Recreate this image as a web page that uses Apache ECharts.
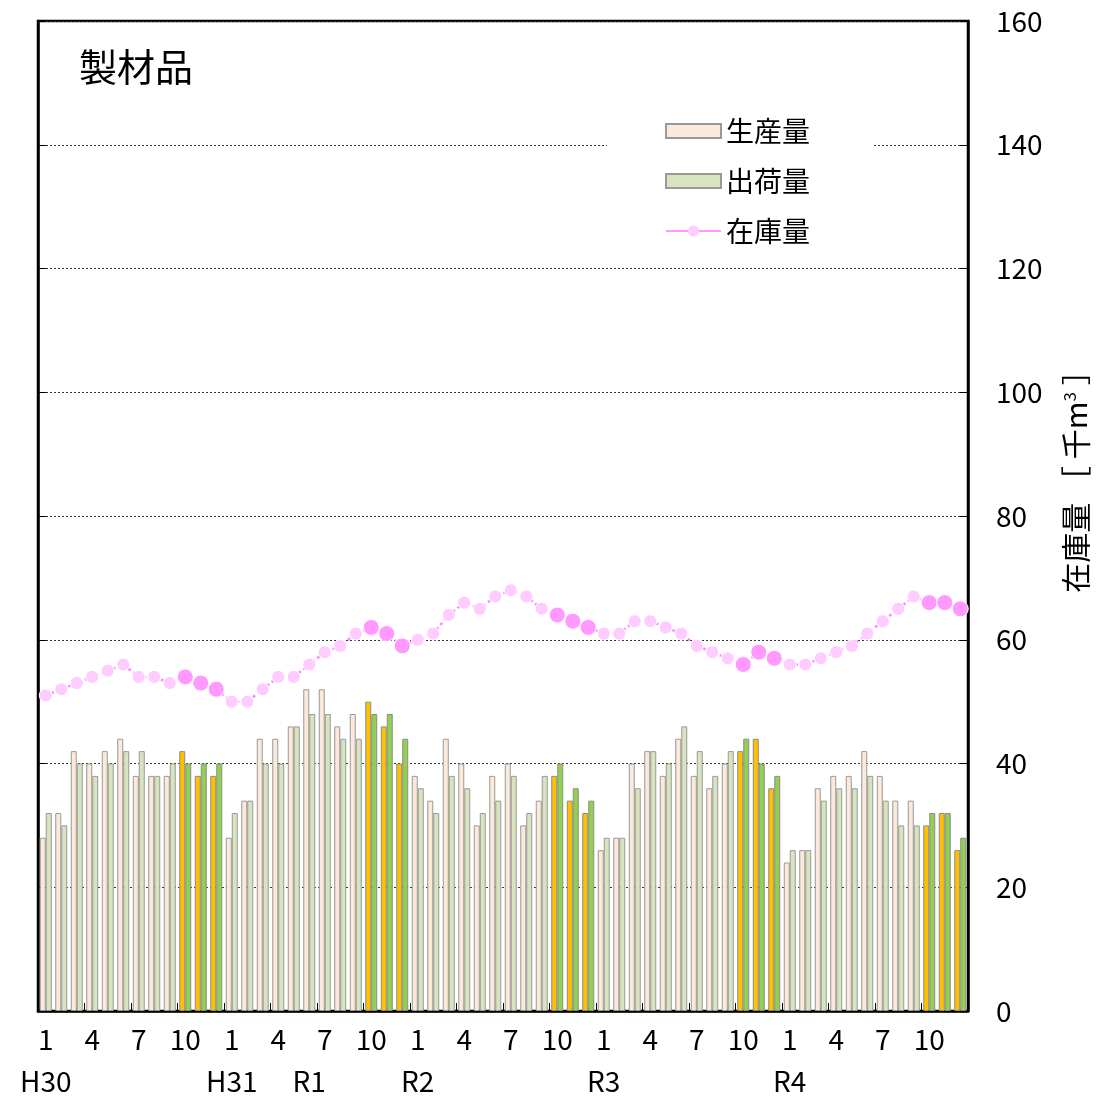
<!DOCTYPE html>
<html><head><meta charset="utf-8">
<script src="https://cdn.jsdelivr.net/npm/echarts@6/dist/echarts.min.js"></script>
<style>html,body{margin:0;padding:0;background:#fff}#c{width:1100px;height:1112px}</style>
</head><body><div id="c"></div>
<script>
// ---- data ----
const years = [2018, 2019, 2020, 2021, 2022];
const monthNums = [1,2,3,4,5,6,7,8,9,10,11,12];
const categories = [];
years.forEach(y => monthNums.forEach(m => categories.push(y + '-' + m)));
const eraLabels = {0: 'H30', 12: 'H31', 17: 'R1', 24: 'R2', 36: 'R3', 48: 'R4'};
const production = [
  28,32,42,40,42,44,38,38,38,42,38,38,
  28,34,44,44,46,52,52,46,48,50,46,40,
  38,34,44,40,30,38,40,30,34,38,34,32,
  26,28,40,42,38,44,38,36,40,42,44,36,
  24,26,36,38,38,42,38,34,34,30,32,26];
const shipment = [
  32,30,40,38,40,42,42,38,40,40,40,40,
  32,34,40,40,46,48,48,44,44,48,48,44,
  36,32,38,36,32,34,38,32,38,40,36,34,
  28,28,36,42,40,46,42,38,42,44,40,38,
  26,26,34,36,36,38,34,30,30,32,32,28];
const inventory = [
  51,52,53,54,55,56,54,54,53,54,53,52,
  50,50,52,54,54,56,58,59,61,62,61,59,
  60,61,64,66,65,67,68,67,65,64,63,62,
  61,61,63,63,62,61,59,58,57,56,58,57,
  56,56,57,58,59,61,63,65,67,66,66,65];
const yTicks = [0,20,40,60,80,100,120,140,160];

// ---- styles ----
const FONT = '"Noto Sans CJK JP", "Noto Sans", sans-serif';
const isHi = i => (i % 12) >= 9;
const prodData = production.map((v, i) => isHi(i) ? {value: v, itemStyle: {color: '#FFC000', borderColor: '#8c8c8c'}} : v);
const shipData = shipment.map((v, i) => isHi(i) ? {value: v, itemStyle: {color: '#92D050', borderColor: '#8c8c8c'}} : v);
const invData = inventory.map((v, i) => isHi(i) ? {value: v, symbolSize: 16, itemStyle: {color: '#FF99FF'}} : v);

const chart = echarts.init(document.getElementById('c'), null, {renderer: 'canvas'});
chart.setOption({
  animation: false,
  backgroundColor: '#fff',
  title: {text: '製材品', left: 74, top: 43, textStyle: {fontSize: 38, fontWeight: 'normal', color: '#000', fontFamily: FONT}},
  grid: {left: 38, right: 132, top: 21, bottom: 101, show: true, borderColor: '#000', borderWidth: 2.5, backgroundColor: 'transparent'},
  legend: {
    orient: 'vertical', left: 607, top: 107,
    padding: [10, 64, 10, 58], itemGap: 22,
    itemWidth: 55, itemHeight: 14,
    backgroundColor: '#fff',
    textStyle: {fontSize: 28, color: '#000', fontFamily: FONT, padding: [0, 0, 0, 0]},
    data: [
      {name: '生産量', icon: 'rect'},
      {name: '出荷量', icon: 'rect'},
      {name: '在庫量', lineStyle: {type: 'solid', width: 2, color: '#FF99FF'}, itemStyle: {color: '#FFCCFF', borderWidth: 0}}
    ]
  },
  xAxis: [{
    type: 'category', data: categories, position: 'bottom',
    axisLine: {show: true, lineStyle: {color: '#000', width: 2.5}},
    axisTick: {show: true, inside: true, length: 8, lineStyle: {color: '#000', width: 1}},
    axisLabel: {
      interval: i => i % 3 === 0,
      formatter: v => v.split('-')[1],
      fontSize: 28, color: '#000', fontFamily: FONT, margin: 14
    },
    splitLine: {show: false}
  }, {
    type: 'category', data: categories, position: 'bottom', offset: 0,
    axisLine: {show: false}, axisTick: {show: false},
    axisLabel: {
      interval: i => eraLabels[i] !== undefined,
      formatter: (v, i) => eraLabels[i] || '',
      fontSize: 28, color: '#000', fontFamily: FONT, margin: 56
    },
    splitLine: {show: false}
  }],
  yAxis: [{
    type: 'value', position: 'right', min: 0, max: 160, interval: 20,
    axisLine: {show: true, lineStyle: {color: '#000', width: 2.5}},
    axisTick: {show: true, inside: true, length: 8, lineStyle: {color: '#000', width: 1}},
    axisLabel: {fontSize: 28, color: '#000', fontFamily: FONT, margin: 28,
      formatter: v => yTicks.indexOf(v) >= 0 ? String(v) : ''},
    splitLine: {show: true, lineStyle: {color: '#333', width: 1, type: [2, 2]}}
  }, {
    type: 'value', position: 'left', min: 0, max: 160, interval: 20,
    axisLine: {show: true, lineStyle: {color: '#000', width: 2.5}},
    axisTick: {show: true, inside: true, length: 8, lineStyle: {color: '#000', width: 1}},
    axisLabel: {show: false}, splitLine: {show: false}
  }],
  graphic: [{
    type: 'text', x: 1076, y: 474, rotation: Math.PI / 2, z: 100,
    style: {
      text: '在庫量 ［ 千m{sup|3} ］',
      font: '30px ' + FONT, fill: '#000',
      align: 'center', verticalAlign: 'middle',
      rich: {sup: {fontSize: 17, verticalAlign: 'top', padding: [0, 0, 11, 0], fontFamily: FONT, fill: '#000'}}
    }
  }],
  series: [{
    name: '生産量', type: 'bar', data: prodData, barWidth: 6, barGap: '0%',
    itemStyle: {color: '#FDE9D9', borderColor: '#999', borderWidth: 1}, z: 2
  }, {
    name: '出荷量', type: 'bar', data: shipData, barWidth: 6, barGap: '0%',
    itemStyle: {color: '#D7E4BD', borderColor: '#999', borderWidth: 1}, z: 2
  }, {
    name: '在庫量', type: 'line', data: invData, symbol: 'circle', symbolSize: 13,
    showAllSymbol: true,
    lineStyle: {color: '#FF88FF', width: 2.5, type: [3, 3]},
    itemStyle: {color: '#FFCCFF', borderColor: '#fff', borderWidth: 1},
    z: 5
  }]
});
</script></body></html>
